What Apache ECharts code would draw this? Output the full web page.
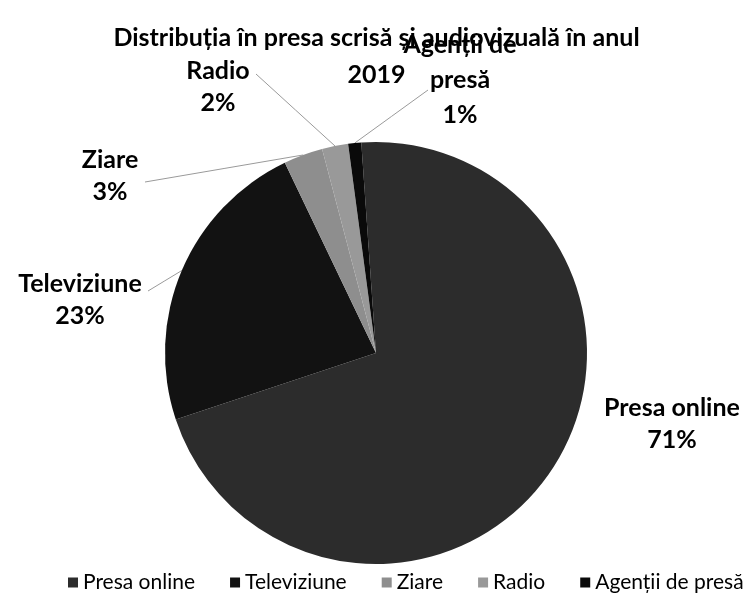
<!DOCTYPE html>
<html>
<head>
<meta charset="utf-8">
<script src="https://cdn.jsdelivr.net/npm/echarts@6/dist/echarts.min.js"></script>
<style>html,body{margin:0;padding:0;background:#fff}#c{width:753px;height:597px}</style>
</head>
<body>
<div id="c"></div>
<script>
// Data
var categories = ['Presa online', 'Televiziune', 'Ziare', 'Radio', 'Agenții de presă'];
var values = [71, 23, 3, 2, 1];
var titleText = 'Distribuția în presa scrisă și audiovizuală în anul\n2019';

// Styles / layout
var colors = ['#2c2c2c', '#121212', '#8e8e8e', '#999999', '#0a0a0a'];
var labelCenters = [[672, 424], [80, 300], [110, 176], [218, 87], [460, 80]];
var lineEnds = [null, [148, 291], [145, 182], [256, 74], [428, 90]];
var wrapAfterWords = [0, 0, 0, 0, 2];
var FONT = 'Lato';

var chart = echarts.init(document.getElementById('c'), null, {renderer: 'canvas'});

var data = categories.map(function (name, i) {
  var item = {name: name, value: values[i], itemStyle: {color: colors[i]}};
  if (i === 0) item.labelLine = {show: false};
  if (i === 4) item.label = {lineHeight: 35};
  return item;
});

chart.setOption({
  animation: false,
  title: {
    text: titleText,
    left: 'center',
    top: 14,
    textStyle: {fontFamily: FONT, fontWeight: 'bold', fontSize: 25, lineHeight: 37, color: '#000'}
  },
  legend: {
    bottom: 4,
    left: 68,
    width: 700,
    padding: 0,
    icon: 'rect',
    itemWidth: 10,
    itemHeight: 10,
    itemGap: 35,
    textStyle: {fontFamily: FONT, fontSize: 21, color: '#000'},
    data: categories
  },
  series: [{
    type: 'pie',
    center: [376, 353],
    radius: 211,
    startAngle: 94,
    clockwise: true,
    avoidLabelOverlap: false,
    label: {
      show: true,
      position: 'outside',
      formatter: function (p) {
        var name = p.name;
        var n = wrapAfterWords[p.dataIndex];
        if (n) {
          var w = name.split(' ');
          name = w.slice(0, n).join(' ') + '\n' + w.slice(n).join(' ');
        }
        return name + '\n' + Math.round(p.percent) + '%';
      },
      fontFamily: FONT,
      fontWeight: 'bold',
      fontSize: 25,
      lineHeight: 32,
      color: '#000',
      align: 'center'
    },
    labelLine: {show: true, length: 15, length2: 10, lineStyle: {color: '#9a9a9a', width: 1}},
    emphasis: {disabled: true},
    labelLayout: function (params) {
      var i = params.dataIndex;
      var c = labelCenters[i];
      var res = {x: c[0], y: c[1], align: 'center', verticalAlign: 'middle'};
      var pts = params.labelLinePoints;
      if (lineEnds[i] && pts && pts.length) {
        var p0 = pts[0];
        var e = lineEnds[i];
        res.labelLinePoints = [p0, [(p0[0] + e[0]) / 2, (p0[1] + e[1]) / 2], e];
      }
      return res;
    },
    data: data
  }]
});
</script>
</body>
</html>
